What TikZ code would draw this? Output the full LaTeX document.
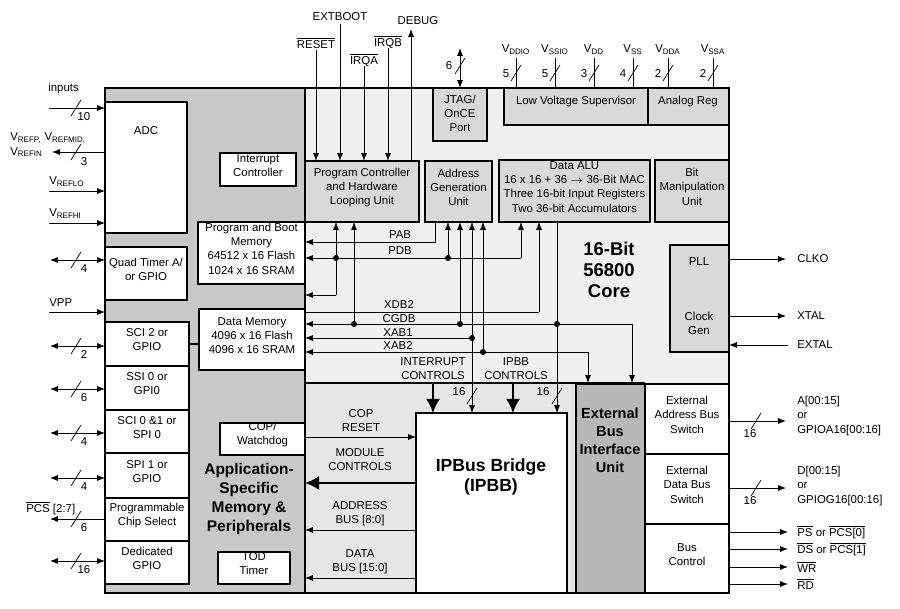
\documentclass[tikz,border=0pt]{standalone}
\usepackage{fontspec}
\setmainfont{Liberation Sans}
\usetikzlibrary{arrows.meta,fit,calc}
\definecolor{asmgray}{HTML}{C8C8C8}
\definecolor{coregray}{HTML}{F0F0F0}
\definecolor{unitgray}{HTML}{D9D9D9}
\definecolor{ipgray}{HTML}{E6E6E6}
\definecolor{ebiugray}{HTML}{B8B8B8}
\tikzset{
  blk/.style={draw,fill=#1,inner sep=0pt,align=center,line width=0.6pt},
  blk/.default=white,
  lbl/.style={inner sep=0pt,align=center,font=\fontsize{6.5}{8}\selectfont},
  big/.style={inner sep=0pt,align=center,font=\fontsize{8.8}{10.8}\selectfont\bfseries},
  arr/.style={-{Latex[length=4.5pt,width=3.5pt]},line width=0.5pt},
  darr/.style={{Latex[length=4.5pt,width=3.5pt]}-{Latex[length=4.5pt,width=3.5pt]},line width=0.5pt},
  fat/.style={-{Latex[length=8pt,width=8pt]},line width=1.3pt},
  dot/.style={circle,fill,inner sep=1.2pt}
}
\newcommand\busslash[2]{\draw (#1-5,#2+8) -- ++(10,-16);}
\newcommand\ov[1]{$\overline{\hbox{#1}}$}
\begin{document}
\begin{tikzpicture}[x=0.02cm,y=-0.02cm,font=\fontsize{6.5}{8}\selectfont]
\useasboundingbox (0,0) rectangle (900,609);
% regions
\fill[asmgray] (105,88) rectangle (305,593);
\fill[coregray] (305,88) rectangle (729,383);
\fill[ipgray] (305,383) rectangle (576,593);
\node[blk=ebiugray,fit={(576,384)(645,593)}] (ebiu) {};
\node[big,font=\fontsize{8.3}{10.2}\selectfont\bfseries] at (610,440) {External\\Bus\\Interface\\Unit};
\draw[line width=0.6pt] (105,88) rectangle (729,593);
\draw[line width=0.6pt] (305,88) -- (305,593);
\draw[line width=1.5pt] (305,383) -- (645,383);
% core blocks
\node[blk=unitgray,fit={(433,88)(487,141)}] (jtag) {};
\node[lbl] at (460,113) {JTAG/\\OnCE\\Port};
\node[blk=unitgray,fit={(504,88)(648,125)}] (lvs) {};
\node[lbl] at (576,102) {Low Voltage Supervisor};
\node[blk=unitgray,fit={(648,88)(729,125)}] (areg) {};
\node[lbl] at (688,102) {Analog Reg};
\node[blk=unitgray,fit={(305,161)(419,222)}] (pc) {Program Controller\\and Hardware\\Looping Unit};
\node[blk=unitgray,fit={(425,161)(492,222)}] (agu) {Address\\Generation\\Unit};
\node[blk=unitgray,fit={(499,160)(650,222)}] (alu) {Data ALU\\16 x 16 + 36 $\rightarrow$ 36-Bit MAC\\Three 16-bit Input Registers\\Two 36-bit Accumulators};
\node[blk=unitgray,fit={(655,160)(729,222)}] (bmu) {Bit\\Manipulation\\Unit};
\node[blk=unitgray,fit={(670,245)(729,352)}] (pll) {};
\node[lbl] at (699,262) {PLL};
\node[lbl] at (699,323) {Clock\\Gen};
\node[big,font=\fontsize{10.5}{12}\selectfont\bfseries] at (609,270) {16-Bit\\56800\\Core};
% ASM blocks
\node[blk,fit={(105,102)(187,233)}] (adc) {};
\node[lbl] at (146,131) {ADC};
\node[blk,fit={(105,247)(187,300)}] (qt) {Quad Timer A/\\or GPIO};
\node[blk,fit={(105,322)(189,366)}] (sci2) {SCI 2 or\\GPIO};
\node[blk,fit={(105,366)(189,410)}] (ssi) {SSI 0 or\\GPI0};
\node[blk,fit={(105,410)(189,453)}] (sci0) {SCI 0 \&1 or\\SPI 0};
\node[blk,fit={(105,453)(189,498)}] (spi1) {SPI 1 or\\GPIO};
\node[blk,fit={(105,498)(189,541)}] (pcs) {Programmable\\Chip Select};
\node[blk,fit={(105,541)(189,584)}] (gpio) {Dedicated\\GPIO};
\node[blk,fit={(220,153)(296,186)}] (intc) {Interrupt\\Controller};
\node[blk,fit={(198,222)(305,284)}] (pmem) {Program and Boot\\Memory\\64512 x 16 Flash\\1024 x 16 SRAM};
\node[blk,fit={(199,309)(305,370)}] (dmem) {Data Memory\\4096 x 16 Flash\\4096 x 16 SRAM};
\draw[line width=1pt] (189,344) -- (199,344);
\node[blk,fit={(220,423)(305,455)}] (cop) {COP/\\Watchdog};
\node[blk,fit={(218,552)(290,584)}] (tod) {TOD\\Timer};
\node[big] at (249,499) {Application-\\Specific\\Memory \&\\Peripherals};
% IPBus side
\node[blk,fit={(416,413)(567,593)}] (ipbb) {};
\node[big,font=\fontsize{10}{11.5}\selectfont\bfseries] at (491,477) {IPBus Bridge\\(IPBB)};
\node[blk,fit={(645,384)(729,454)}] (eab) {External\\Address Bus\\Switch};
\node[blk,fit={(645,454)(729,524)}] (edb) {External\\Data Bus\\Switch};
\node[blk,fit={(645,524)(729,593)}] (bc) {Bus\\Control};
% top pins
\node[lbl] (reset) at (316,43) {\ov{RESET}};
\node[lbl] (extboot) at (340,17) {EXTBOOT};
\node[lbl] (irqa) at (364,60) {\ov{IRQA}};
\node[lbl] (irqb) at (388,42) {\ov{IRQB}};
\node[lbl] (debug) at (418,21) {DEBUG};
\draw[arr] (316,50) -- (316,161);
\draw[arr] (340,24) -- (340,161);
\draw[arr] (364,66) -- (364,161);
\draw[arr] (388,48) -- (388,161);
\draw[arr] (411,161) -- (411,29);
\draw[darr] (460,48) -- (460,88);
\busslash{460}{66} \node[lbl] at (449,66) {6};
\foreach \x/\n/\w in {516/DDIO/5,555/SSIO/5,594/DD/3,633/SS/4,668/DDA/2,713/SSA/2}{
  \node[lbl] at (\x,50) {V\textsubscript{\n}};
  \draw (\x,58) -- (\x,88);
  \busslash{\x}{73}
  \node[lbl] at (\x-10,74) {\w};
}
% left pins
\node[lbl,anchor=west] at (48,89) {inputs};
\draw[arr] (49,108) -- (105,108); \busslash{76}{108} \node[lbl] at (84,117) {10};
\node[lbl,anchor=west,align=left] at (10,145) {V\textsubscript{REFP,} V\textsubscript{REFMID,}\\V\textsubscript{REFIN}};
\draw[arr] (105,152) -- (52,152); \busslash{76}{152} \node[lbl] at (84,162) {3};
\node[lbl,anchor=west] at (49,182) {V\textsubscript{REFLO}};
\draw[arr] (49,191) -- (105,191);
\node[lbl,anchor=west] at (49,214) {V\textsubscript{REFHI}};
\draw[arr] (49,223) -- (105,223);
\node[lbl,anchor=west] at (49,303) {VPP};
\draw[arr] (49,312) -- (105,312);
\foreach \y/\w in {260/4,346/2,389/6,433/4,478/4,561/16}{
  \draw[darr] (50,\y) -- (105,\y);
  \busslash{76}{\y}
  \node[lbl] at (84,\y+9) {\w};
}
\node[lbl,anchor=west] at (26,508) {\ov{PCS} [2:7]};
\draw[arr] (105,519) -- (50,519); \busslash{76}{519} \node[lbl] at (84,528) {6};
% core buses
\draw[arr] (435,222) -- (435,242) -- (305,242);
\node[lbl] at (400,235) {PAB};
\draw[arr] (521,258) -- (305,258);
\draw[arr] (521,258) -- (521,222);
\node[lbl] at (400,251) {PDB};
\node[dot] at (336,258) {}; \node[dot] at (448,258) {};
\draw[arr] (336,295) -- (336,222);
\draw[arr] (336,295) -- (305,295);
\draw[arr] (448,258) -- (448,222);
\draw[arr] (539,312) -- (539,222);
\draw (539,312) -- (305,312);
\node[lbl] at (399,305) {XDB2};
\draw[arr] (632,324) -- (305,324);
\draw[arr] (632,324) -- (632,383);
\node[lbl] at (399,319) {CGDB};
\node[dot] at (354,324) {}; \node[dot] at (460,324) {}; \node[dot] at (557,324) {};
\draw[arr] (354,324) -- (354,222);
\draw[arr] (460,324) -- (460,222);
\draw[arr] (472,338) -- (305,338);
\node[lbl] at (398,333) {XAB1};
\node[dot] at (472,338) {};
\draw[arr] (472,383) -- (472,222);
\draw[arr] (472,383) -- (472,413);
\draw[arr] (588,352) -- (305,352);
\draw[arr] (588,352) -- (588,383);
\node[lbl] at (398,346) {XAB2};
\node[dot] at (483,352) {};
\draw[arr] (483,352) -- (483,222);
\draw[arr] (557,222) -- (557,413);
\node[lbl] at (433,369) {INTERRUPT\\CONTROLS};
\node[lbl] at (516,369) {IPBB\\CONTROLS};
\draw[fat] (433,383) -- (433,413);
\draw[fat] (513,383) -- (513,413);
\busslash{472}{396} \node[lbl] at (459,392) {16};
\busslash{557}{396} \node[lbl] at (543,392) {16};
% IPBus signals
\draw[arr] (305,437) -- (416,437);
\node[lbl] at (361,421) {COP\\RESET};
\draw[fat] (416,483) -- (305,483);
\node[lbl] at (360,460) {MODULE\\CONTROLS};
\draw[arr] (416,530) -- (305,530);
\node[lbl] at (360,514) {ADDRESS\\BUS [8:0]};
\draw[arr] (416,578) -- (305,578);
\node[lbl] at (360,562) {DATA\\BUS [15:0]};
% right pins
\draw[arr] (729,259) -- (786,259); \node[lbl,anchor=west] at (797,259) {CLKO};
\draw[arr] (729,316) -- (786,316); \node[lbl,anchor=west] at (797,316) {XTAL};
\draw[arr] (788,345) -- (729,345); \node[lbl,anchor=west] at (797,345) {EXTAL};
\draw[arr] (729,421) -- (786,421); \busslash{756}{421} \node[lbl] at (750,434) {16};
\node[lbl,anchor=west,align=left] at (797,416) {A[00:15]\\or\\GPIOA16[00:16]};
\draw[arr] (729,488) -- (786,488); \busslash{756}{488} \node[lbl] at (750,501) {16};
\node[lbl,anchor=west,align=left] at (797,486) {D[00:15]\\or\\GPIOG16[00:16]};
\draw[arr] (729,532) -- (788,532); \node[lbl,anchor=west] at (797,532) {\ov{PS} or \ov{PCS[0]}};
\draw[arr] (729,549) -- (788,549); \node[lbl,anchor=west] at (797,549) {\ov{DS} or \ov{PCS[1]}};
\draw[arr] (729,567) -- (788,567); \node[lbl,anchor=west] at (797,567) {\ov{WR}};
\draw[arr] (729,584) -- (788,584); \node[lbl,anchor=west] at (797,584) {\ov{RD}};
\end{tikzpicture}
\end{document}
